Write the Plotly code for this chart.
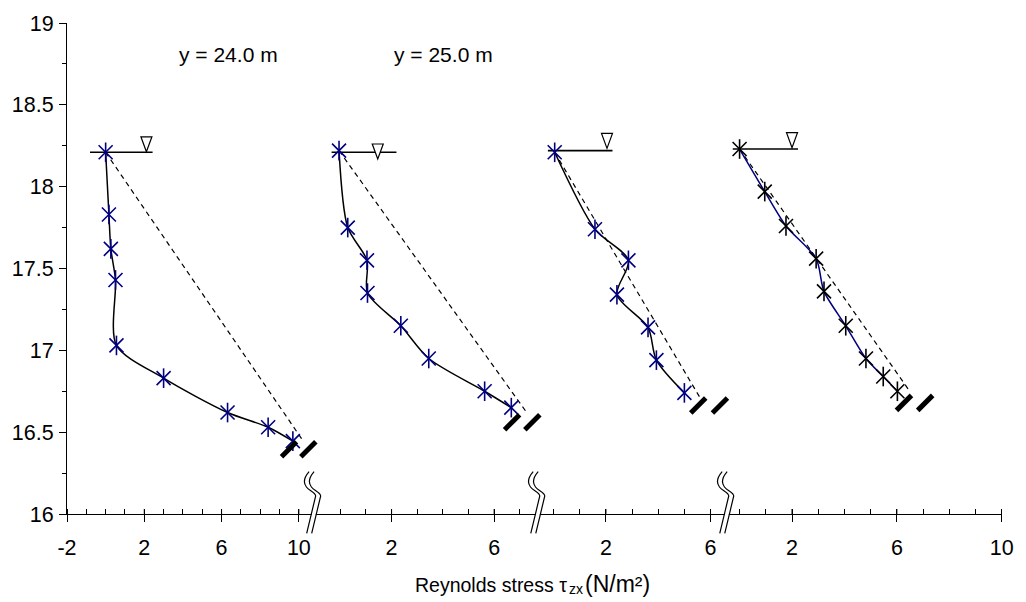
import plotly.graph_objects as go

# ---------------- data ----------------
# measured Reynolds stress profiles (tau_zx in N/m^2, elevation z in m)
p1_tau = [0.0, 0.17, 0.27, 0.51, 0.56, 3.00, 6.31, 8.41, 9.69]
p1_z = [18.21, 17.83, 17.62, 17.43, 17.03, 16.83, 16.62, 16.53, 16.445]
p2_tau = [-0.05, 0.29, 1.04, 1.06, 2.36, 3.45, 5.63, 6.67]
p2_z = [18.22, 17.75, 17.55, 17.35, 17.15, 16.95, 16.75, 16.65]
p3_tau = [0.04, 1.58, 2.86, 2.42, 3.61, 3.93, 5.00]
p3_z = [18.21, 17.74, 17.55, 17.34, 17.14, 16.94, 16.74]
p4_tau = [0.0, 0.96, 1.77, 2.92, 3.22, 4.05, 4.82, 5.48, 6.02]
p4_z = [18.23, 17.97, 17.76, 17.56, 17.36, 17.15, 16.95, 16.84, 16.75]

# linear (theoretical) stress distributions: surface -> bed
lin1_tau = [0.0, 10.20]
lin1_z = [18.21, 16.45]
lin2_tau = [-0.05, 7.27]
lin2_z = [18.22, 16.62]
lin3_tau = [0.04, 5.60]
lin3_z = [18.21, 16.71]
lin4_tau = [0.0, 6.49]
lin4_z = [18.23, 16.75]

# water surface symbol
surf_z = [18.21, 18.21, 18.22, 18.23]
surf_x0 = [-0.81, -0.34, -0.22, -0.26]
surf_x1 = [2.43, 2.19, 2.25, 2.23]
tri_x = [2.11, 1.46, 2.04, 2.00]
tri_z = [18.213, 18.169, 18.234, 18.238]

# bed symbols
bed_x = [[9.49, 10.49], [6.70, 7.49], [5.53, 6.36], [6.27, 7.08]]
bed_z = [16.395, 16.561, 16.663, 16.679]

# section labels
section_labels = ["y = 24.0 m", "y = 25.0 m"]
section_label_x = [3.70, 2.00]
section_label_z = [18.81, 18.81]

# axes
x_tickvals = [[-2, 2, 6, 10], [2, 6], [2, 6], [2, 6, 10]]
x_ticktext = [["-2", "2", "6", "10"], ["2", "6"], ["2", "6"], ["2", "6", "10"]]
y_tickvals = [16, 16.5, 17, 17.5, 18, 18.5, 19]
y_ticktext = ["16", "16.5", "17", "17.5", "18", "18.5", "19"]
x_title_main = "Reynolds stress τ"
x_title_sub = "zx"
x_title_unit = "(N/m²)"

# ---------------- layout geometry ----------------
W, H = 1026, 602
ML, MR, MT, MB = 67, 14, 21, 88
PW = W - ML - MR
seg_px = [67, 315, 543, 733, 1012]
seg_dom = [[(seg_px[i] - ML) / PW, (seg_px[i + 1] - ML) / PW] for i in range(4)]
seg_dom[-1][1] = 1.0
seg_range = [[-2, 10.70], [-1.09, 7.71], [-0.60, 6.59], [-0.52, 10.01]]
break_px = [315, 541.5, 732.5]

FONT = "Arial, Liberation Sans, sans-serif"
NAVY = "#000080"
TICKFONT = dict(family=FONT, size=21.5, color="black")

profiles = [
    (p1_tau, p1_z, lin1_tau, lin1_z, "black", NAVY),
    (p2_tau, p2_z, lin2_tau, lin2_z, "black", NAVY),
    (p3_tau, p3_z, lin3_tau, lin3_z, "black", NAVY),
    (p4_tau, p4_z, lin4_tau, lin4_z, NAVY, "black"),
]

fig = go.Figure()
for i, (tau, z, ltau, lz, lcol, mcol) in enumerate(profiles):
    xa = "x" if i == 0 else f"x{i + 1}"
    # theoretical dashed line
    fig.add_trace(go.Scatter(x=ltau, y=lz, xaxis=xa, yaxis="y", mode="lines",
                             line=dict(color="black", width=1.2, dash="5px,4px"),
                             hoverinfo="skip"))
    # water surface line
    fig.add_trace(go.Scatter(x=[surf_x0[i], surf_x1[i]], y=[surf_z[i], surf_z[i]],
                             xaxis=xa, yaxis="y", mode="lines",
                             line=dict(color="black", width=1.6), hoverinfo="skip"))
    # measured profile
    fig.add_trace(go.Scatter(x=tau, y=z, xaxis=xa, yaxis="y", mode="lines",
                             line=dict(color=lcol, width=1.5, shape="spline", smoothing=0.8)))
    for sym in ["x-thin-open", "line-ns-open"]:
        fig.add_trace(go.Scatter(x=tau, y=z, xaxis=xa, yaxis="y", mode="markers",
                                 marker=dict(symbol=sym, size=14, color=mcol,
                                             line=dict(color=mcol, width=1.6)),
                                 cliponaxis=False))
    # bed symbols
    fig.add_trace(go.Scatter(x=bed_x[i], y=[bed_z[i]] * len(bed_x[i]), xaxis=xa, yaxis="y",
                             mode="markers", cliponaxis=False, hoverinfo="skip",
                             marker=dict(symbol="line-ne", size=15, color="black",
                                         line=dict(color="black", width=5))))
    # surface triangle
    fig.add_shape(type="path", xref=xa, yref="y", xsizemode="pixel", ysizemode="pixel",
                  xanchor=tri_x[i], yanchor=tri_z[i],
                  path="M -5.5 15 L 5.5 15 L 0 0 Z",
                  line=dict(color="black", width=1.2), fillcolor="white")
    # inner half of the major x ticks (ticks cross the axis line)
    for tv in x_tickvals[i]:
        fig.add_shape(type="line", xref=xa, yref="paper", x0=tv, x1=tv,
                      ysizemode="pixel", yanchor=0, y0=0, y1=5,
                      line=dict(color="black", width=1))

layout = dict(
    width=W, height=H, margin=dict(l=ML, r=MR, t=MT, b=MB),
    paper_bgcolor="white", plot_bgcolor="white", showlegend=False,
    font=dict(family=FONT, size=20, color="black"),
    yaxis=dict(range=[16, 19], anchor="x", showgrid=False, zeroline=False,
               showline=True, linecolor="black", linewidth=1,
               tickvals=y_tickvals, ticktext=y_ticktext,
               ticks="outside", ticklen=7, tickcolor="black", tickwidth=1,
               ticklabelstandoff=1,
               minor=dict(dtick=0.25, tick0=16, ticks="outside", ticklen=4,
                          tickcolor="black", tickwidth=1),
               tickfont=TICKFONT),
)
for i in range(4):
    key = "xaxis" if i == 0 else f"xaxis{i + 1}"
    layout[key] = dict(domain=seg_dom[i], range=seg_range[i], anchor="y",
                       showgrid=False, zeroline=False, showline=True,
                       linecolor="black", linewidth=1,
                       tickvals=x_tickvals[i], ticktext=x_ticktext[i],
                       ticks="outside", ticklen=7, tickcolor="black", tickwidth=1,
                       ticklabelstandoff=7,
                       minor=dict(dtick=1, tick0=0, ticks="inside", ticklen=5,
                                  tickcolor="black", tickwidth=1),
                       tickfont=TICKFONT)
fig.update_layout(**layout)

# axis-break symbols
brk_path = "M {a} 42.3 C {b} 38 {c} 32 {d} 27 C {e} 23 {f} 22 {g} 18 L {h} -19.3"
def brk(dx):
    v = [-3.3, -7, -10, -6, -3, 3, 3.3, -5.7]
    v = [round(t + dx, 2) for t in v]
    return brk_path.format(a=v[0], b=v[1], c=v[2], d=v[3], e=v[4], f=v[5], g=v[6], h=v[7])

for bx in break_px:
    xp = (bx - ML) / PW
    fig.add_shape(type="path", xref="paper", yref="paper", xsizemode="pixel",
                  ysizemode="pixel", xanchor=xp, yanchor=0, path=brk(2.5),
                  line=dict(color="white", width=4))
    for dx in (0, 5):
        fig.add_shape(type="path", xref="paper", yref="paper", xsizemode="pixel",
                      ysizemode="pixel", xanchor=xp, yanchor=0, path=brk(dx),
                      line=dict(color="black", width=1.2))

# section labels
for i, txt in enumerate(section_labels):
    fig.add_annotation(text=txt, x=section_label_x[i], y=section_label_z[i],
                       xref="x" if i == 0 else f"x{i + 1}", yref="y",
                       xanchor="left", yanchor="middle", showarrow=False,
                       font=dict(family=FONT, size=21, color="black"))

# x-axis title (built from three pieces: main text, subscript, unit)
title_parts = [
    (x_title_main, 573, "right", 19.5, -71),
    (x_title_sub, 573, "left", 14, -75),
    (x_title_unit, 590, "left", 23, -70),
]
for txt, px, anchor, size, ysh in title_parts:
    fig.add_annotation(text=txt, x=(px - ML) / PW, y=0, xref="paper", yref="paper",
                       xanchor=anchor, yanchor="middle", yshift=ysh, showarrow=False,
                       borderpad=0, font=dict(family=FONT, size=size, color="black"))

fig.write_html("out.html")
